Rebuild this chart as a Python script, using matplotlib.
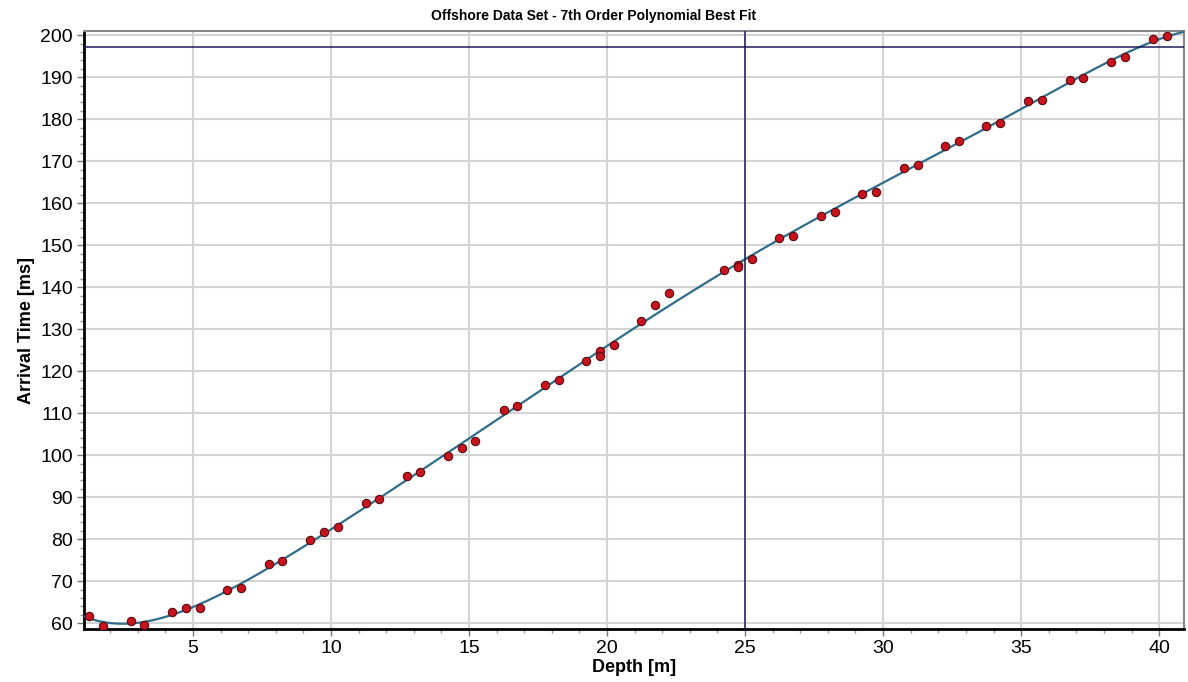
import numpy as np
import matplotlib
matplotlib.use("Agg")
import matplotlib.pyplot as plt
from matplotlib.ticker import MultipleLocator

plt.rcParams["font.family"] = ["Liberation Sans", "DejaVu Sans"]

# Measured arrival times vs depth
depth = [1.24, 1.74, 2.74, 3.24, 4.24, 4.74, 5.24, 6.24, 6.74, 7.74, 8.24,
         9.22, 9.75, 10.25, 11.25, 11.75, 12.74, 13.24, 14.24, 14.73, 15.23,
         16.25, 16.75, 17.74, 18.25, 19.25, 19.75, 19.75, 20.25, 21.24,
         21.74, 22.24, 24.25, 24.76, 24.76, 25.25, 26.24, 26.74, 27.74,
         28.24, 29.25, 29.74, 30.75, 31.25, 32.25, 32.75, 33.74, 34.24,
         35.25, 35.76, 36.76, 37.26, 38.26, 38.76, 39.77, 40.27]
arrival = [61.8, 59.4, 60.5, 59.6, 62.6, 63.5, 63.7, 67.8, 68.3, 74.0, 74.9,
           79.9, 81.8, 82.9, 88.5, 89.6, 95.0, 95.9, 99.8, 101.8, 103.4,
           110.7, 111.6, 116.8, 117.8, 122.5, 124.8, 123.6, 126.2, 131.9,
           135.7, 138.7, 144.1, 145.3, 144.7, 146.7, 151.7, 152.2, 156.9,
           157.9, 162.2, 162.7, 168.5, 169.0, 173.7, 174.8, 178.5, 179.1,
           184.3, 184.6, 189.3, 189.9, 193.7, 194.8, 199.1, 199.8]

fit_order = 7
cursor_depth = 25.0
cursor_time = 197.1

fig = plt.figure(figsize=(11.88, 6.82), dpi=100)
ax = fig.add_axes([0.0707, 0.0777, 0.9259, 0.8768])

x0, x1 = 1.05, 40.9
ax.set_xlim(x0, x1)
ax.set_ylim(58.6, 201)

# polynomial best fit
coef = np.polyfit(depth, arrival, fit_order)
xs = np.linspace(x0, x1, 400)
ax.plot(xs, np.polyval(coef, xs), color="#2F6D88", linewidth=1.6, zorder=3)

ax.plot(depth, arrival, "o", markersize=6, markerfacecolor="#C8141E",
        markeredgecolor="#5A0A12", markeredgewidth=0.8, zorder=4)

# cursor lines
ax.axvline(cursor_depth, color="#1C1C5C", linewidth=1.1, zorder=5)
ax.axhline(cursor_time, color="#1C1C5C", linewidth=1.1, zorder=5)

ax.xaxis.set_major_locator(MultipleLocator(5))
ax.xaxis.set_minor_locator(MultipleLocator(1))
ax.yaxis.set_major_locator(MultipleLocator(10))
ax.yaxis.set_minor_locator(MultipleLocator(2))
ax.grid(True, which="major", color="#D4D4D4", linewidth=1.5, zorder=0)
ax.set_axisbelow(True)

ax.tick_params(axis="both", which="major", length=5, width=1, color="#777777",
               labelsize=14, pad=3)
ax.tick_params(axis="both", which="minor", length=3, width=1, color="#999999")

for side in ("left", "bottom"):
    ax.spines[side].set_linewidth(2)
    ax.spines[side].set_color("black")
for side in ("top", "right"):
    ax.spines[side].set_linewidth(1.5)
    ax.spines[side].set_color("#888888")

ax.set_xlabel("Depth [m]", fontsize=13, fontweight="bold", labelpad=1)
ax.set_ylabel("Arrival Time [ms]", fontsize=13, fontweight="bold", labelpad=4)
fig.text(0.5, 0.977, "Offshore Data Set - 7th Order Polynomial Best Fit",
         ha="center", va="center", fontsize=10, fontweight="bold")

fig.savefig("out.png", dpi=100)
